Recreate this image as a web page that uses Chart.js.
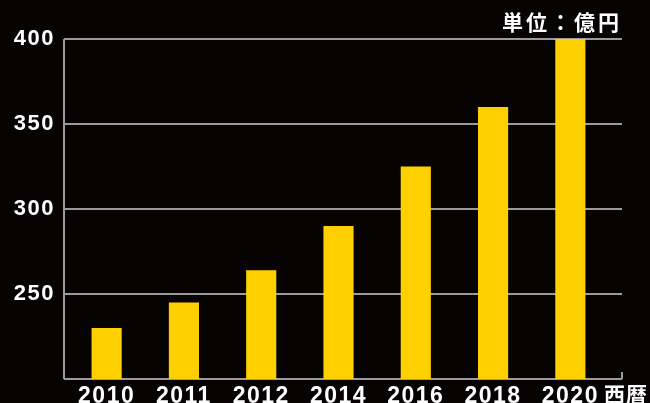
<!DOCTYPE html>
<html>
<head>
<meta charset="utf-8">
<script src="https://cdn.jsdelivr.net/npm/chart.js@4"></script>
<style>
  html, body { margin: 0; padding: 0; background: #070303; }
  #wrap { width: 650px; height: 403px; }
</style>
</head>
<body>
<div id="wrap"><canvas id="salesChart"></canvas></div>
<script>
// data
const years = ['2010', '2011', '2012', '2014', '2016', '2018', '2020'];
const amounts = [230, 245, 264, 290, 325, 360, 400];
const yTicks = [200, 250, 300, 350, 400];

const unitLabel = '単位：億円';
const xAxisLabel = '西暦';

// grid lines run a bit past the bars on both sides, so draw them here
const frame = {
  id: 'frame',
  beforeDraw(chart) {
    chart.ctx.letterSpacing = '1.5px';
  },
  beforeDatasetsDraw(chart) {
    const ctx = chart.ctx;
    const y = chart.scales.y;
    const left = 64, right = 622;
    ctx.save();
    ctx.strokeStyle = '#9a9a9a';
    ctx.lineWidth = 2;
    yTicks.forEach(v => {
      const py = Math.round(y.getPixelForValue(v));
      ctx.beginPath();
      ctx.moveTo(left, py);
      ctx.lineTo(right, py);
      ctx.stroke();
    });
    // y axis line
    ctx.beginPath();
    ctx.moveTo(left, Math.round(y.getPixelForValue(400)));
    ctx.lineTo(left, Math.round(y.getPixelForValue(200)));
    // little tick at the right end of the x axis
    ctx.moveTo(right, Math.round(y.getPixelForValue(200)));
    ctx.lineTo(right, Math.round(y.getPixelForValue(200)) - 7);
    ctx.stroke();
    ctx.restore();
  },
  afterDraw(chart) {
    const ctx = chart.ctx;
    ctx.save();
    ctx.fillStyle = '#ffffff';
    ctx.letterSpacing = '3px';
    ctx.font = 'bold 21px "Noto Sans CJK JP"';
    ctx.textAlign = 'right';
    ctx.textBaseline = 'middle';
    ctx.fillText(unitLabel, 622, 22);
    ctx.letterSpacing = '1px';
    ctx.font = 'bold 21px "Noto Sans CJK JP"';
    ctx.textAlign = 'left';
    ctx.fillText(xAxisLabel, 604, 394);
    ctx.restore();
  }
};

const ctx = document.getElementById('salesChart').getContext('2d');
const salesChart = new Chart(ctx, {
  type: 'bar',
  data: {
    labels: years,
    datasets: [{
      data: amounts,
      backgroundColor: '#ffd000',
      borderWidth: 0,
      categoryPercentage: 1,
      barPercentage: 0.39
    }]
  },
  options: {
    responsive: true,
    maintainAspectRatio: false,
    animation: false,
    layout: { padding: { top: 39, right: 41, left: 0, bottom: 0 } },
    plugins: { legend: { display: false }, tooltip: { enabled: false } },
    scales: {
      x: {
        grid: { display: false, drawTicks: false },
        border: { display: false },
        ticks: {
          color: '#ffffff',
          padding: 4,
          maxRotation: 0,
          font: { family: '"Liberation Sans", Arial', size: 23, weight: 'bold' }
        },
        afterFit(scale) { scale.height = 24; }
      },
      y: {
        min: 200,
        max: 400,
        grid: { display: false, drawTicks: false },
        border: { display: false },
        ticks: {
          stepSize: 50,
          color: '#ffffff',
          padding: 13,
          font: { family: '"Liberation Sans", Arial', size: 22, weight: 'bold' },
          callback: v => (v === 200 ? '' : v)
        },
        afterFit(scale) {
          scale.width = 68;
          scale.paddingTop = 0;
          scale.paddingBottom = 0;
        }
      }
    }
  },
  plugins: [frame]
});
</script>
</body>
</html>
